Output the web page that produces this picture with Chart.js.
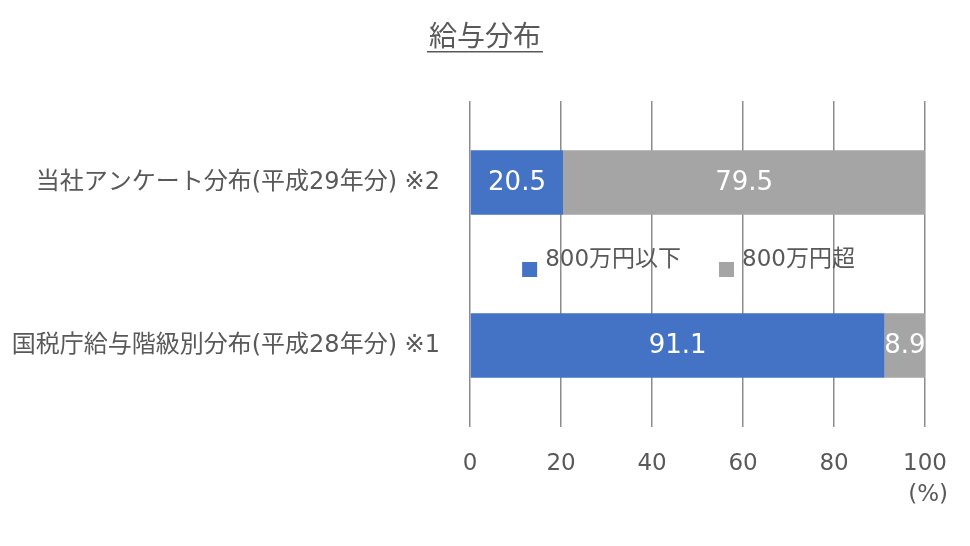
<!DOCTYPE html>
<html>
<head>
<meta charset="utf-8">
<script src="https://cdn.jsdelivr.net/npm/chart.js@4"></script>
<style>
  html, body { margin: 0; padding: 0; background: #fff; }
  #wrap { width: 970px; height: 546px; }
</style>
</head>
<body>
<div id="wrap"><canvas id="salaryChart" width="970" height="546"></canvas></div>
<script>
const categories = ["当社アンケート分布(平成29年分) ※2", "国税庁給与階級別分布(平成28年分) ※1"];
const seriesNames = ["800万円以下", "800万円超"];
const under8m = [20.5, 91.1];
const over8m = [79.5, 8.9];
const xTicks = [0, 20, 40, 60, 80, 100];

// wide latin digits first (close to the original's look), CJK falls through to Noto
const FONT = '"DejaVu Sans", "Noto Sans CJK JP", sans-serif';
const TEXT = "#595959";

// title with underline, centred on the page
const titlePlugin = {
  id: 'underlinedTitle',
  afterDraw(chart) {
    const { ctx, width } = chart;
    ctx.save();
    ctx.font = `28px ${FONT}`;
    ctx.fillStyle = TEXT;
    ctx.textAlign = 'center';
    ctx.textBaseline = 'middle';
    const t = "給与分布";
    ctx.fillText(t, width / 2, 39);
    const w = ctx.measureText(t).width;
    ctx.fillRect(width / 2 - w / 2 - 2, 51, w + 4, 1.5);
    // unit label under the axis
    ctx.font = `23px ${FONT}`;
    ctx.textAlign = 'right';
    ctx.fillText("(%)", 948, 495);
    ctx.restore();
  }
};

// value labels inside each bar segment
const valueLabels = {
  id: 'valueLabels',
  afterDatasetsDraw(chart) {
    const { ctx } = chart;
    ctx.save();
    ctx.font = `26px ${FONT}`;
    ctx.fillStyle = "#ffffff";
    ctx.textAlign = 'center';
    ctx.textBaseline = 'middle';
    chart.data.datasets.forEach((ds, i) => {
      chart.getDatasetMeta(i).data.forEach((el, j) => {
        const cx = (el.x + el.base) / 2;
        ctx.fillText(ds.data[j].toFixed(1), cx, el.y + 1);
      });
    });
    ctx.restore();
  }
};

// legend sits between the two bars, like the original
const midLegend = {
  id: 'midLegend',
  afterDraw(chart) {
    const { ctx } = chart;
    const yScale = chart.scales.y;
    const y = (yScale.getPixelForValue(0) + yScale.getPixelForValue(1)) / 2 - 6;
    ctx.save();
    ctx.font = `23px ${FONT}`;
    ctx.textBaseline = 'middle';
    ctx.textAlign = 'left';
    const items = chart.data.datasets.map(d => ({ label: d.label, color: d.backgroundColor }));
    const box = 15, gap = 8, spacing = 38;
    const total = items.reduce((s, it) => s + box + gap + ctx.measureText(it.label).width, 0) + spacing * (items.length - 1);
    let x = (chart.chartArea.left + chart.chartArea.right) / 2 - 9 - total / 2;
    items.forEach(it => {
      ctx.fillStyle = it.color;
      ctx.fillRect(x, y + 4, box, box);
      x += box + gap;
      ctx.fillStyle = TEXT;
      ctx.fillText(it.label, x, y + 2);
      x += ctx.measureText(it.label).width + spacing;
    });
    ctx.restore();
  }
};

new Chart(document.getElementById("salaryChart").getContext("2d"), {
  type: "bar",
  data: {
    labels: categories,
    datasets: [
      { label: seriesNames[0], data: under8m, backgroundColor: "#4472C4" },
      { label: seriesNames[1], data: over8m, backgroundColor: "#A5A5A5" }
    ]
  },
  plugins: [titlePlugin, valueLabels, midLegend],
  options: {
    indexAxis: 'y',
    responsive: false,
    animation: false,
    layout: { padding: { top: 101, right: 44, left: 0, bottom: 0 } },
    datasets: { bar: { categoryPercentage: 1, barPercentage: 0.395, borderWidth: 0 } },
    plugins: {
      legend: { display: false },
      tooltip: { enabled: false }
    },
    scales: {
      x: {
        stacked: true,
        min: 0, max: 100,
        afterBuildTicks: s => { s.ticks = xTicks.map(v => ({ value: v })); },
        afterFit: s => { s.height = 119; },
        grid: { color: "#8C8C8C", lineWidth: 1.5, drawTicks: false },
        border: { display: false },
        ticks: { color: TEXT, font: { family: FONT, size: 23 }, padding: 23 }
      },
      y: {
        stacked: true,
        afterFit: s => { s.width = 470; },
        grid: { display: false, drawTicks: false },
        border: { display: false },
        ticks: { color: TEXT, font: { family: FONT, size: 24 }, padding: 30 }
      }
    }
  }
});
</script>
</body>
</html>
